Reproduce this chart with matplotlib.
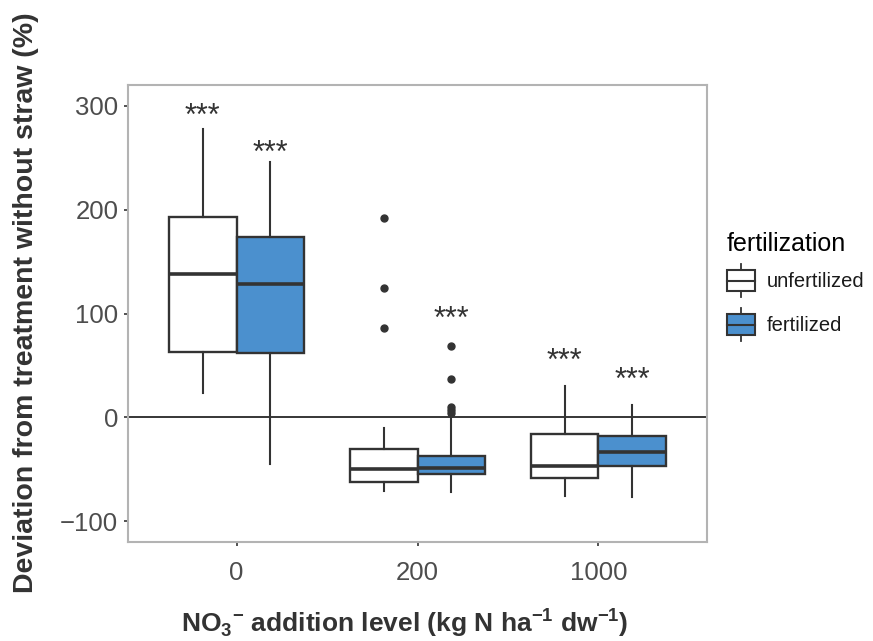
import numpy as np
import matplotlib
matplotlib.use("Agg")
from matplotlib import pyplot as plt
from matplotlib.patches import Rectangle
from matplotlib.lines import Line2D
from matplotlib.legend_handler import HandlerBase

plt.rcParams["font.family"] = ["Liberation Sans", "DejaVu Sans"]
plt.rcParams["mathtext.fontset"] = "custom"
plt.rcParams["mathtext.rm"] = "Liberation Sans"
plt.rcParams["mathtext.bf"] = "Liberation Sans:bold"

# 데이터
groups = ["0", "200", "1000"]
fert_levels = ["unfertilized", "fertilized"]

whislo_unf = [23, -71, -76]
q1_unf = [63, -62, -58]
med_unf = [138, -50, -47]
q3_unf = [193, -30, -16]
whishi_unf = [278, -10, 30]
fliers_unf = [[], [192, 125, 86], []]

whislo_fer = [-45, -72, -77]
q1_fer = [62, -55, -47]
med_fer = [128, -49, -33]
q3_fer = [174, -37, -18]
whishi_fer = [246, 3, 12]
fliers_fer = [[], [69, 37, 10, 7, 4], []]

# 유의성 표시
sig_unf = ["***", "", "***"]
sig_unf_y = [294, 0, 58]
sig_fer = ["***", "***", "***"]
sig_fer_y = [259, 99, 40]

fills = ["white", "#4b90ce"]
edge = "#333333"

fig = plt.figure(figsize=(8.73, 6.41), dpi=100)
ax = fig.add_axes([128 / 873, 1 - 542 / 641, (707 - 128) / 873, (542 - 85) / 641])

x = np.arange(len(groups))
offset = 0.1875
series = [
    (whislo_unf, q1_unf, med_unf, q3_unf, whishi_unf, fliers_unf),
    (whislo_fer, q1_fer, med_fer, q3_fer, whishi_fer, fliers_fer),
]

ax.axhline(0, color="black", lw=1.1, zorder=1)

for k, (lo, q1, md, q3, hi, fl) in enumerate(series):
    stats = [
        dict(whislo=lo[i], q1=q1[i], med=md[i], q3=q3[i], whishi=hi[i], fliers=fl[i])
        for i in range(len(groups))
    ]
    pos = x + (2 * k - 1) * offset
    ax.bxp(
        stats,
        positions=pos,
        widths=0.375,
        patch_artist=True,
        showcaps=False,
        boxprops=dict(facecolor=fills[k], edgecolor=edge, lw=1.7),
        whiskerprops=dict(color=edge, lw=1.5),
        medianprops=dict(color=edge, lw=2.6),
        flierprops=dict(marker="o", mfc=edge, mec=edge, ms=5, ls="none"),
        zorder=2,
    )

for i in range(len(groups)):
    if sig_unf[i]:
        ax.text(x[i] - offset, sig_unf_y[i] - 5, sig_unf[i], ha="center", va="center",
                fontsize=22, color="#333333")
    if sig_fer[i]:
        ax.text(x[i] + offset, sig_fer_y[i] - 5, sig_fer[i], ha="center", va="center",
                fontsize=22, color="#333333")

ax.set_xlim(-0.6, 2.6)
ax.set_ylim(-120, 320)
ax.set_xticks(x)
ax.set_xticklabels(groups)
ax.set_yticks([-100, 0, 100, 200, 300])
ax.set_yticklabels(["\u2212100", "0", "100", "200", "300"])
ax.tick_params(axis="both", labelsize=18.5, labelcolor="#4d4d4d", color="#333333",
               length=3, width=1.2)
ax.tick_params(axis="x", pad=11)
ax.tick_params(axis="y", pad=4)
for s in ax.spines.values():
    s.set_color("#b3b3b3")
    s.set_linewidth(1.5)

ax.set_xlabel(r"NO$_\mathbf{3}$$^\mathbf{-}$ addition level (kg N ha$^\mathbf{-1}$ dw$^\mathbf{-1}$)",
              fontsize=19, fontweight="bold", color="#333333")
ax.set_ylabel("Deviation from treatment without straw (%)",
              fontsize=20.5, fontweight="bold", color="#333333")
ax.xaxis.set_label_coords(0.4775, -0.14)
ax.yaxis.set_label_coords(-0.154, 0.523)


class BoxHandler(HandlerBase):
    def create_artists(self, legend, orig_handle, xdescent, ydescent, width, height,
                       fontsize, trans):
        fc = orig_handle.get_facecolor()
        x0, y0 = -xdescent, -ydescent
        cx = x0 + width / 2
        cy = y0 + height / 2
        bh = 1.05 * fontsize
        whisk = Line2D([cx, cx], [cy - bh / 2 - 0.3 * fontsize, cy + bh / 2 + 0.3 * fontsize],
                       color=edge, lw=1.3, transform=trans)
        box = Rectangle((x0, cy - bh / 2), width, bh, facecolor=fc, edgecolor=edge,
                        lw=1.5, transform=trans)
        med = Line2D([x0, x0 + width], [cy, cy], color=edge, lw=1.5, transform=trans)
        return [whisk, box, med]


handles = [Rectangle((0, 0), 1, 1, facecolor=c) for c in fills]
leg = fig.legend(handles, fert_levels, handler_map={Rectangle: BoxHandler()},
                 loc="upper left", bbox_to_anchor=(727 / 873, 1 - 232 / 641),
                 frameon=False, fontsize=14.5, title="fertilization",
                 title_fontsize=18, handlelength=1.4, handleheight=2.5,
                 handletextpad=0.55, labelspacing=0.3, borderpad=0,
                 borderaxespad=0, alignment="left")
for t in leg.get_texts():
    t.set_color("#1a1a1a")

fig.savefig("out.png", dpi=100)
